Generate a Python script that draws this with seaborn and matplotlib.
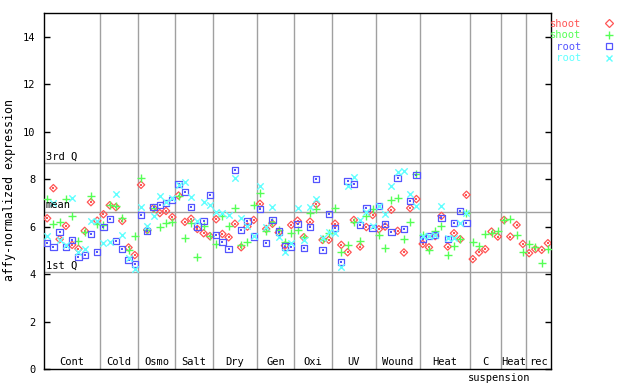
import numpy as np
import pandas as pd
import matplotlib
matplotlib.use("Agg")
import matplotlib.pyplot as plt
import matplotlib.transforms as mtransforms
from matplotlib.lines import Line2D
import seaborn as sns

# ---------------- data ----------------
groups = ["Cont", "Cold", "Osmo", "Salt", "Dry", "Gen", "Oxi", "UV",
          "Wound", "Heat", "C", "Heat", "rec"]
group_sizes = [9, 6, 6, 6, 7, 6, 6, 7, 7, 8, 5, 4, 4]

shoot_red = [6.35, 7.62, 5.47, 6.03, 5.23, 5.06, 5.82, 7.03, 6.25,
             6.52, 6.90, 6.82, 6.24, 5.12, 4.80,
             7.76, 5.86, 6.78, 6.57, 6.66, 6.40,
             7.31, 6.20, 6.33, 5.90, 5.72, 5.60,
             6.31, 5.69, 5.55, 6.12, 5.13, 6.00, 6.28,
             6.96, 5.90, 6.12, 5.75, 5.20, 6.07,
             6.25, 5.55, 6.21, 6.94, 5.44, 5.44,
             6.12, 5.23, 4.92, 6.28, 5.16, 5.98, 6.49,
             5.89, 6.00, 6.71, 5.82, 4.91, 6.78, 7.16,
             5.27, 5.13, 5.60, 6.45, 5.16, 5.72, 5.47, 7.34,
             4.63, 4.91, 5.05, 5.79, 5.58,
             6.28, 5.58, 6.07, 5.27,
             4.88, 5.05, 5.02, 5.30]

shoot_green = [7.16, 6.12, 6.21, 7.16, 6.45, 5.40, 5.79, 7.30, 6.13,
               6.07, 6.90, 6.85, 6.36, 5.02, 5.61,
               8.04, 5.85, 6.80, 6.00, 6.14, 6.21,
               7.27, 5.51, 6.17, 4.74, 6.03, 5.61,
               5.26, 6.45, 6.03, 6.78, 5.23, 5.37, 6.92,
               7.41, 5.83, 6.20, 5.86, 5.34, 5.72,
               5.86, 5.55, 6.57, 6.73, 5.47, 5.72,
               6.78, 4.95, 5.23, 6.21, 5.41, 6.45, 6.73,
               5.65, 5.09, 7.10, 7.20, 5.48, 6.19, 8.22,
               5.65, 5.02, 5.82, 6.03, 4.81, 5.19, 5.47, 6.59,
               5.34, 5.19, 5.68, 5.72, 5.83,
               6.28, 6.31, 5.65, 4.95,
               5.26, 5.13, 4.46, 5.07]

root_blue = [5.30, 5.13, 5.76, 5.13, 5.44, 4.71, 4.81, 5.69, 4.92,
             5.98, 6.32, 5.40, 5.06, 4.60, 4.43,
             6.49, 5.82, 6.82, 6.92, 6.99, 7.13,
             7.79, 7.45, 6.82, 6.00, 6.24, 7.34,
             5.65, 5.36, 5.06, 8.39, 5.86, 6.24, 5.58,
             6.73, 5.30, 6.28, 5.79, 5.16, 5.16,
             6.12, 5.09, 5.98, 8.00, 5.02, 6.54,
             5.93, 4.50, 7.93, 7.80, 6.07, 6.78, 5.93,
             6.87, 6.12, 5.76, 8.04, 5.89, 7.08, 8.17,
             5.47, 5.61, 5.65, 6.35, 5.47, 6.14, 6.66, 6.14]

root_cyan = [5.61, 6.99, 5.45, 5.23, 7.20, 4.91, 5.06, 6.24, 6.25,
             5.30, 5.34, 7.37, 5.65, 4.67, 4.22,
             6.82, 6.03, 6.45, 7.30, 7.05, 7.20,
             7.75, 7.87, 7.24, 6.24, 7.03, 6.92,
             6.60, 6.59, 6.49, 8.04, 6.38, 6.03, 5.61,
             7.72, 5.98, 6.82, 5.55, 4.95, 5.33,
             6.78, 5.44, 6.82, 7.16, 5.50, 5.79,
             5.72, 4.31, 7.72, 8.08, 6.28, 6.63, 6.03,
             6.87, 6.52, 7.72, 8.32, 8.36, 7.38, 6.85,
             5.61, 5.60, 5.65, 6.87, 5.50, 5.51, 6.14, 6.59]

q3_value, mean_value, q1_value = 8.67, 6.62, 4.07
y_ticks = [0, 2, 4, 6, 8, 10, 12, 14]

# ---------------- build long table ----------------
frames = []
series_def = [
    ("shoot", "red", shoot_red),
    ("shoot", "green", shoot_green),
    ("root", "blue", root_blue),
    ("root", "cyan", root_cyan),
]
for tissue, key, vals in series_def:
    frames.append(pd.DataFrame({"sample": np.arange(len(vals)),
                                "value": vals, "tissue": tissue, "key": key}))
df = pd.concat(frames, ignore_index=True)

colors = {"red": "#ff5555", "green": "#55ff55", "blue": "#5555ff", "cyan": "#60ffff"}
mono = "DejaVu Sans Mono"
fs = 7.5

sns.set_style("white")
plt.rcParams["font.family"] = [mono, "DejaVu Sans"]

fig = plt.figure(figsize=(6.4, 3.84), dpi=100)
ax = fig.add_axes([44 / 640, 1 - 369 / 384, (551 - 44) / 640, (369 - 13) / 384])

n_total = sum(group_sizes)
ax.set_xlim(-0.5, n_total - 0.5)
ax.set_ylim(0, 15)

# separators
bounds = np.cumsum(group_sizes)
for b in bounds[:-1]:
    ax.axvline(b - 0.5, color="#a0a0a0", lw=1, zorder=1)
for v in (q3_value, mean_value, q1_value):
    ax.axhline(v, color="#a0a0a0", lw=1, zorder=1)

# points
d = df[df.key == "red"]
sns.scatterplot(data=d, x="sample", y="value", marker="D", s=14, facecolors="none",
                edgecolor=colors["red"], linewidth=0.9, ax=ax, legend=False, zorder=3)
sns.scatterplot(data=d, x="sample", y="value", marker="s", s=1.2, color=colors["red"],
                linewidth=0, ax=ax, legend=False, zorder=3)
d = df[df.key == "green"]
sns.scatterplot(data=d, x="sample", y="value", marker="+", s=30, color=colors["green"],
                linewidth=1.0, ax=ax, legend=False, zorder=3)
d = df[df.key == "blue"]
sns.scatterplot(data=d, x="sample", y="value", marker="s", s=21, facecolors="none",
                edgecolor=colors["blue"], linewidth=0.9, ax=ax, legend=False, zorder=3)
sns.scatterplot(data=d, x="sample", y="value", marker="s", s=1.2, color=colors["blue"],
                linewidth=0, ax=ax, legend=False, zorder=3)
d = df[df.key == "cyan"]
sns.scatterplot(data=d, x="sample", y="value", marker="x", s=21, color=colors["cyan"],
                linewidth=1.0, ax=ax, legend=False, zorder=3)

ax.set_xlabel("")
ax.set_ylabel("")

# axes styling
for sp in ax.spines.values():
    sp.set_color("black")
    sp.set_linewidth(1)
ax.set_xticks([])
ax.set_yticks(y_ticks)
ax.set_yticklabels([str(t) for t in y_ticks], fontsize=fs, family=mono)
ax.tick_params(axis="y", direction="in", length=4, width=1, left=True, right=True,
               pad=6, colors="black")

# quartile labels
trans_lbl = mtransforms.blended_transform_factory(ax.transAxes, ax.transData)
for txt, v in (("3rd Q", q3_value), ("mean", mean_value), ("1st Q", q1_value)):
    ax.text(0.003, v + 0.08, txt, transform=trans_lbl, ha="left", va="bottom",
            fontsize=fs, family=mono, color="black")

# group labels
trans_x = mtransforms.blended_transform_factory(ax.transData, ax.transAxes)
starts = np.concatenate([[0], bounds[:-1]])
for g, s0, n in zip(groups, starts, group_sizes):
    ax.text(s0 + n / 2 - 0.5, 0.02, g, transform=trans_x, ha="center", va="center",
            fontsize=fs, family=mono, color="black")
c_idx = groups.index("C")
ax.text(starts[c_idx] - 0.7, -0.025, "suspension", transform=trans_x, ha="left",
        va="center", fontsize=fs, family=mono, color="black", clip_on=False)

# y label
fig.text(10 / 640, 1 - 190 / 384, "affy-normalized expression", rotation=90,
         ha="center", va="center", fontsize=8.4, family=mono, color="black")

# legend
handles = [
    Line2D([], [], ls="none", marker="D", markersize=3.6, markerfacecolor="none",
           markeredgecolor=colors["red"], markeredgewidth=0.9),
    Line2D([], [], ls="none", marker="+", markersize=5.2, color=colors["green"],
           markeredgewidth=1.0),
    Line2D([], [], ls="none", marker="s", markersize=4.4, markerfacecolor="none",
           markeredgecolor=colors["blue"], markeredgewidth=0.9),
    Line2D([], [], ls="none", marker="x", markersize=4.4, color=colors["cyan"],
           markeredgewidth=1.0),
]
labels = ["shoot", "shoot", " root", " root"]
fig.legend(handles, labels, loc="upper left", bbox_to_anchor=(550 / 640, 1 - 19 / 384),
           frameon=False, markerfirst=False, fontsize=fs,
           labelcolor=[colors["red"], colors["green"], colors["blue"], colors["cyan"]],
           handlelength=2.0, handletextpad=1.7, labelspacing=0.14, borderpad=0,
           borderaxespad=0, prop={"family": mono, "size": fs})

fig.savefig("out.png", dpi=100)
